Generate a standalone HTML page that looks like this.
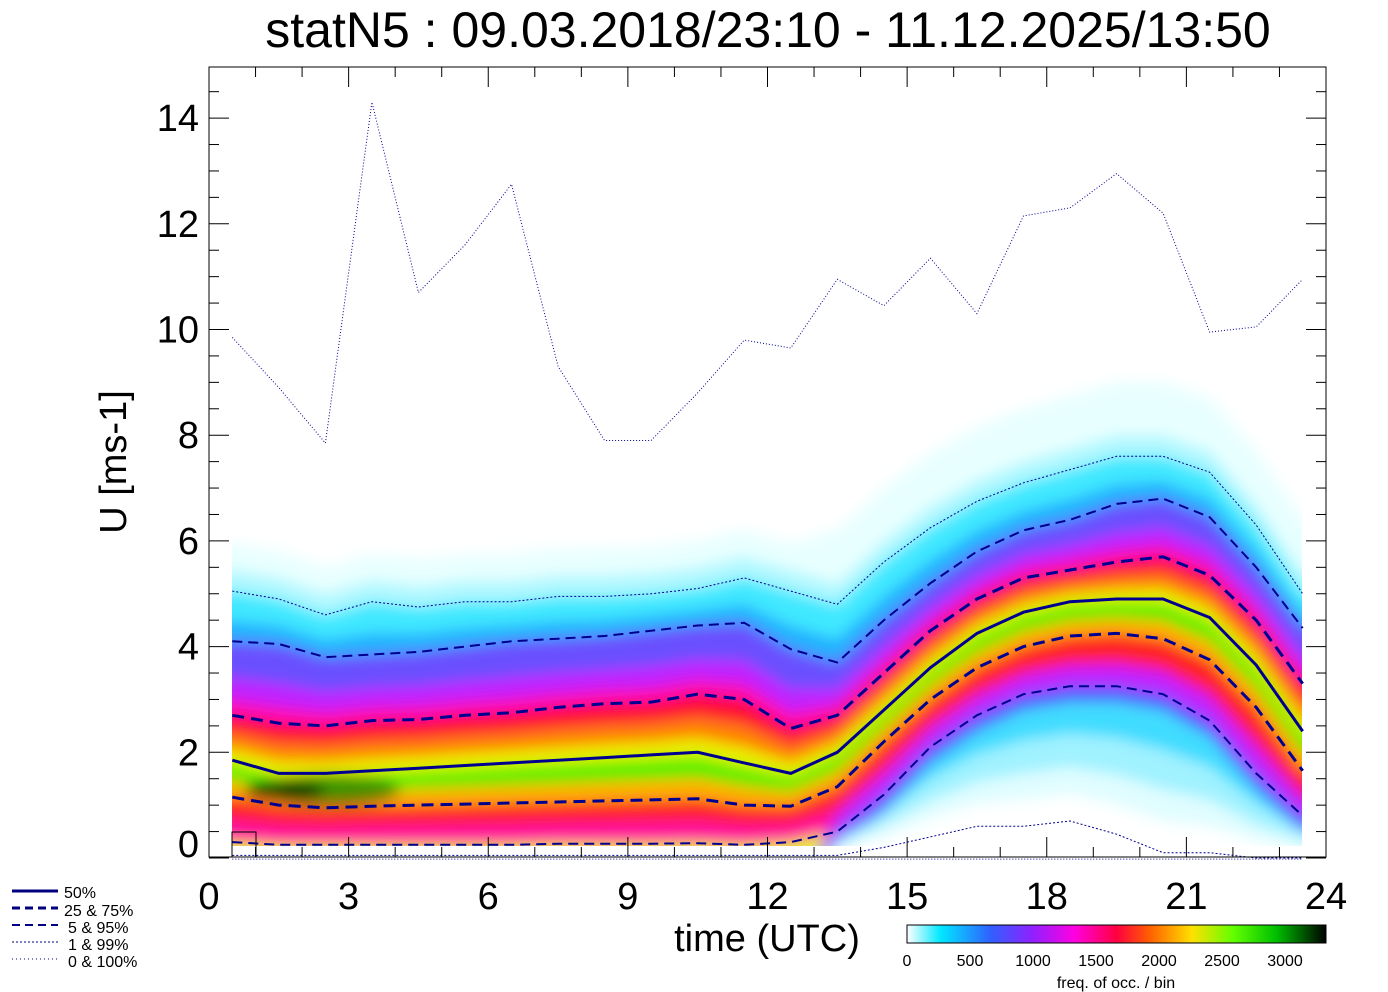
<!DOCTYPE html>
<html><head><meta charset="utf-8"><style>
body{margin:0;background:#fff;width:1388px;height:992px;overflow:hidden}
svg{display:block}
text{font-family:"Liberation Sans",sans-serif;fill:#000}
</style></head><body>
<svg id="s" width="1388" height="992" xmlns="http://www.w3.org/2000/svg">
<defs>
<filter id="bl" x="-5%" y="-5%" width="110%" height="110%"><feGaussianBlur stdDeviation="7"/></filter>
<clipPath id="cp"><rect x="232" y="60" width="1070" height="786"/></clipPath>
<linearGradient id="cb" x1="0" x2="1" y1="0" y2="0">
<stop offset="0" stop-color="#fff"/><stop offset="0.08" stop-color="#00e8ff"/><stop offset="0.2" stop-color="#3060ff"/><stop offset="0.3" stop-color="#9020ff"/><stop offset="0.4" stop-color="#ff00e0"/><stop offset="0.5" stop-color="#ff0040"/><stop offset="0.58" stop-color="#ff6000"/><stop offset="0.68" stop-color="#ffe000"/><stop offset="0.78" stop-color="#60ff00"/><stop offset="0.88" stop-color="#00c000"/><stop offset="1" stop-color="#000"/>
</linearGradient>
</defs>
<text x="768" y="47" font-size="50" text-anchor="middle">statN5 : 09.03.2018/23:10 - 11.12.2025/13:50</text>
<g id="heat" clip-path="url(#cp)" filter="url(#bl)"></g>
<g id="lines"></g>
<rect x="209" y="67" width="1117" height="790" fill="none" stroke="#000" stroke-width="1"/>
<g id="ax"></g>
<text x="0" y="0" font-size="38" transform="translate(126,462) rotate(-90)" text-anchor="middle">U [ms-1]</text>
<text x="767" y="951" font-size="38" text-anchor="middle">time (UTC)</text>
<rect x="907" y="925" width="419" height="18" fill="url(#cb)" stroke="#000" stroke-width="1"/>
<g font-size="16" text-anchor="middle">
<text x="907" y="966">0</text><text x="970" y="966">500</text><text x="1033" y="966">1000</text><text x="1096" y="966">1500</text><text x="1159" y="966">2000</text><text x="1222" y="966">2500</text><text x="1285" y="966">3000</text>
<text x="1116" y="988">freq. of occ. / bin</text></g>
<g font-size="16">
<line x1="12" y1="891" x2="58" y2="891" stroke="#000080" stroke-width="3"/><text x="64" y="898">50%</text>
<line x1="12" y1="908" x2="58" y2="908" stroke="#000080" stroke-width="3" stroke-dasharray="8,5"/><text x="64" y="916">25 &amp;  75%</text>
<line x1="12" y1="925" x2="58" y2="925" stroke="#000080" stroke-width="2" stroke-dasharray="8,5"/><text x="68" y="933">5 &amp;  95%</text>
<line x1="12" y1="942" x2="58" y2="942" stroke="#000080" stroke-width="1" stroke-dasharray="2,2"/><text x="68" y="950">1 &amp;  99%</text>
<line x1="12" y1="959" x2="58" y2="959" stroke="#000080" stroke-width="1" stroke-dasharray="1,3"/><text x="68" y="967">0 &amp; 100%</text>
</g>
</svg>
<script>
var X=t=>209+t*1117/24, Y=v=>858-v*52.85;
var hs=[];for(var i=0;i<24;i++)hs.push(i+0.5);
function lin(a,b,n){var r=[];for(var i=0;i<n;i++)r.push(a+(b-a)*i/(n-1));return r}
var med=[1.85,1.6,1.6].concat(lin(1.6,2.0,9).slice(1)).concat([1.8,1.6,2.0,2.8,3.6,4.25,4.65,4.85,4.9,4.9,4.55,3.65,2.4]);
var p75=[2.7,2.55,2.5,2.6,2.62,2.7,2.75,2.85,2.92,2.95,3.1,3.0,2.45,2.7,3.5,4.3,4.9,5.3,5.45,5.6,5.7,5.35,4.5,3.3];
var p25=[1.15,1.0,0.95,0.98,1.0,1.02,1.04,1.06,1.08,1.1,1.12,1.0,0.98,1.35,2.2,3.0,3.6,4.0,4.2,4.25,4.15,3.75,2.85,1.65];
var p95=[4.1,4.05,3.8,3.85,3.9,4.0,4.1,4.15,4.2,4.3,4.4,4.45,3.95,3.7,4.5,5.2,5.8,6.2,6.4,6.7,6.8,6.45,5.5,4.35];
var p5=[0.3,0.25,0.25,0.25,0.25,0.25,0.25,0.27,0.27,0.27,0.28,0.25,0.3,0.5,1.2,2.1,2.7,3.1,3.25,3.25,3.1,2.6,1.6,0.8];
var p99=[5.05,4.9,4.6,4.85,4.75,4.85,4.85,4.95,4.95,5.0,5.1,5.3,5.05,4.8,5.6,6.25,6.75,7.1,7.35,7.6,7.6,7.3,6.3,5.0];
var p1=[0.05,0.05,0.05,0.05,0.05,0.05,0.05,0.05,0.05,0.05,0.05,0.05,0.05,0.05,0.2,0.4,0.6,0.6,0.7,0.45,0.1,0.1,0.0,0.0];
var p100=[9.85,8.9,7.85,14.3,10.7,11.6,12.75,9.3,7.9,7.9,8.8,9.8,9.65,10.95,10.45,11.35,10.3,12.15,12.3,12.95,12.2,9.95,10.05,10.95];
function mix(a,b,f){return a.map((v,i)=>v+(b[i]-v)*f)}
function ext(a){var r=a.slice();r.unshift(a[0]);r.push(a[23]);return r}
var hx=[0.2].concat(hs).concat([23.8]);
function pts(a){return ext(a).map((v,i)=>X(hx[i]).toFixed(1)+','+Y(v).toFixed(1))}
function band(top,bot,c){return '<polygon fill="'+c+'" points="'+pts(top).join(' ')+' '+pts(bot).reverse().join(' ')+'"/>'}
var floor=hs.map(()=>-1);
var h='';
h+=band(p99.map((v,i)=>v+(i<13?0.9:1.4)),floor,'#e8ffff');
h+=band(p99.map(v=>v+0.4),floor,'#b0f8ff');
h+=band(p99,floor,'#40e8ff');
h+=band(mix(p99,p95,0.6),floor,'#20b0ff');
h+=band(p95,floor,'#6a50ff');
h+=band(mix(p95,p75,0.5),floor,'#c020ff');
h+=band(mix(p95,p75,0.8),floor,'#ff10b0');
h+=band(p75,floor,'#ff1030');
h+=band(mix(p75,med,0.4),floor,'#ff8000');
h+=band(mix(p75,med,0.75),floor,'#e8f000');
h+=band(mix(med,p25,0.1),mix(p25,p5,0.2),'#50f000');
h+=band(mix(med,p25,0.55),mix(p25,p5,0.1),'#ffb000');
h+=band(p25,p5,'#ff2020');
h+=band(mix(p25,p5,0.5),p5,'#ff10a0');
var R=(a,off)=>a.map((v,i)=>i<13?-1:v+off);
h+=band(R(mix(p25,p5,0.6),0),floor,'#c020ff');
h+=band(R(p5,0),floor,'#5060ff');
h+=band(R(p5,-0.3),floor,'#40dcff');
h+=band(R(mix(p5,p1,0.35),0),floor,'#a0f2ff');
h+=band(R(mix(p5,p1,0.6),0),floor,'#e0fdff');
h+=band(R(mix(p5,p1,0.8),0),floor,'#ffffff');
h+='<ellipse cx="285" cy="790" rx="40" ry="10" fill="#000"/><ellipse cx="330" cy="790" rx="70" ry="16" fill="#006000" opacity="0.6"/>';
document.getElementById('heat').innerHTML=h;
function pl(a,w,d){return '<polyline fill="none" stroke="#000090" stroke-width="'+w+'" '+(d?'stroke-dasharray="'+d+'" ':'')+'points="'+a.map((v,i)=>X(hs[i]).toFixed(1)+','+Y(v).toFixed(1)).join(' ')+'"/>'}
var l='';
l+=pl(med,3,'');l+=pl(p75,3,'12,7');l+=pl(p25,3,'12,7');l+=pl(p95,2,'10,6');l+=pl(p5,2,'10,6');
l+=pl(p99,1,'2,2');l+=pl(p1,1,'2,2');l+=pl(p100,1,'1,2');l+=pl(hs.map(()=>-0.02),1,'1,2');
document.getElementById('lines').innerHTML=l;
var a='';
for(var v=0;v<=15;v+=0.5){var y=Y(v);if(y<67)continue;var L=(v%2==0)?20:10;
a+='<line x1="209" x2="'+(209+L)+'" y1="'+y+'" y2="'+y+'" stroke="#000"/><line x1="1326" x2="'+(1326-L)+'" y1="'+y+'" y2="'+y+'" stroke="#000"/>';
if(v%2==0)a+='<text x="199" y="'+(v==0?857:y+13)+'" font-size="38" text-anchor="end">'+v+'</text>';}
for(var t=0;t<=24;t++){var x=X(t);var L=(t%3==0)?20:10;
a+='<line x1="'+x+'" x2="'+x+'" y1="857" y2="'+(857-L)+'" stroke="#000"/><line x1="'+x+'" x2="'+x+'" y1="67" y2="'+(67+L)+'" stroke="#000"/>';
if(t%3==0)a+='<text x="'+x+'" y="909" font-size="38" text-anchor="middle">'+t+'</text>';}
a+='<rect x="232" y="832" width="24" height="25" fill="none" stroke="#000"/>';
document.getElementById('ax').innerHTML=a;
</script>
</body></html>
